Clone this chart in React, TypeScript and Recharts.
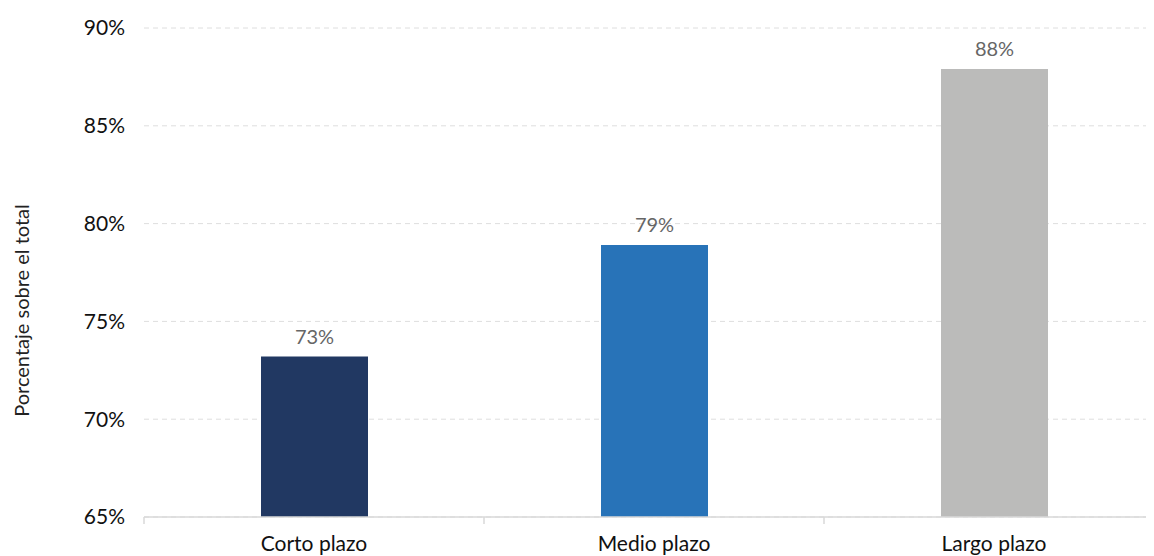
import { BarChart, Bar, XAxis, YAxis, CartesianGrid, Cell, LabelList } from "recharts";

const categories = ["Corto plazo", "Medio plazo", "Largo plazo"];
const shares = [73.2, 78.9, 87.9];
const barColors = ["#213862", "#2873b8", "#bbbbba"];
const yTicks = [65, 70, 75, 80, 85, 90];
const edgeTicks = [0, 1, 2];

const data = categories.map((name, i) => ({ name, share: shares[i], pos: i + 0.5 }));

function YTitle(props: any) {
  const vb = props.viewBox || {};
  const cx = vb.x + 13;
  const cy = vb.y + vb.height / 2 + 38;
  return (
    <text
      x={cx}
      y={cy}
      transform={`rotate(-90 ${cx} ${cy})`}
      textAnchor="middle"
      dominantBaseline="central"
      fontSize={20}
      fill="#222"
    >
      Porcentaje sobre el total
    </text>
  );
}

// boundary ticks only, no text
const NoLabel = () => <g />;

export default function App() {
  return (
    <div style={{ fontFamily: "Lato, 'Open Sans', sans-serif", width: 1146, height: 548, overflow: "hidden" }}>
      <BarChart width={1166} height={548} data={data} margin={{ top: 20, right: 10, left: 0, bottom: 0 }}>
        <CartesianGrid xAxisId="a" vertical={false} stroke="#dedede" strokeDasharray="5 4" />
        <XAxis
          xAxisId="a"
          type="number"
          dataKey="pos"
          domain={[0, 3]}
          ticks={edgeTicks}
          height={2}
          tick={NoLabel}
          tickSize={7}
          tickLine={{ stroke: "#d9d9d9", strokeWidth: 1.5 }}
          axisLine={{ stroke: "#d9d9d9", strokeWidth: 1.5 }}
        />
        <XAxis
          xAxisId="b"
          dataKey="name"
          height={37}
          axisLine={false}
          tickLine={false}
          tickSize={0}
          tickMargin={17}
          tick={{ fill: "#111", fontSize: 21 }}
        />
        <YAxis
          width={136}
          domain={[65, 90]}
          ticks={yTicks}
          allowDataOverflow
          axisLine={false}
          tickLine={false}
          tickSize={0}
          tickMargin={19}
          tick={{ fill: "#111", fontSize: 21 }}
          tickFormatter={(v) => `${v}%`}
          label={{ content: YTitle }}
        />
        <Bar xAxisId="b" dataKey="share" barSize={107} isAnimationActive={false}>
          {data.map((d, i) => (
            <Cell key={d.name} fill={barColors[i]} />
          ))}
          <LabelList
            dataKey="share"
            position="top"
            offset={13}
            fill="#666"
            fontSize={20}
            formatter={(v: any) => `${Math.round(v)}%`}
          />
        </Bar>
      </BarChart>
    </div>
  );
}
